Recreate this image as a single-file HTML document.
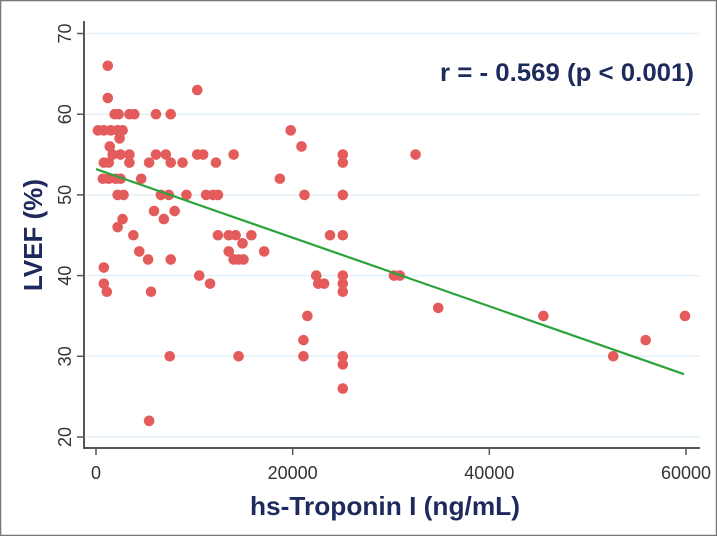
<!DOCTYPE html>
<html><head><meta charset="utf-8"><style>
html,body{margin:0;padding:0;background:#fff}
svg{display:block;font-family:"Liberation Sans",sans-serif}
</style></head><body>
<svg id="chart" width="717" height="536" viewBox="0 0 717 536">
<rect x="0.5" y="0.5" width="716" height="535" fill="#fff" stroke="#777" stroke-width="1.5"/>
<g id="grid"></g>
<g id="axes"></g>
<g id="points"></g>
<g id="fit"></g>
<text x="694" y="81" text-anchor="end" font-size="25" font-weight="bold" fill="#1f2a5c" textLength="254" lengthAdjust="spacingAndGlyphs">r = - 0.569 (p &lt; 0.001)</text>
<text x="385" y="515" text-anchor="middle" font-size="26" font-weight="bold" fill="#1f2a5c" textLength="270" lengthAdjust="spacingAndGlyphs">hs-Troponin I (ng/mL)</text>
<text x="0" y="0" transform="translate(42,235) rotate(-90)" text-anchor="middle" font-size="26" font-weight="bold" fill="#1f2a5c">LVEF (%)</text>
</svg>
<script>
const xTicks=[0,20000,40000,60000];
const yTicks=[20,30,40,50,60,70];
const troponin=[1200,1200,1900,2300,3400,3900,6100,7600,200,800,1500,2200,2700,2400,1400,1700,2500,3400,10300,6100,7100,10300,10900,14000,800,1300,3400,5400,7600,8800,12200,700,1300,2000,2500,4600,18700,2200,2800,6600,7400,9200,11200,11900,12400,5900,8000,6900,2700,2200,3800,12400,13500,14200,15800,14900,13500,17100,4400,5300,7600,14000,14500,15000,800,10500,11600,800,1100,5600,7500,14500,5400,19800,20900,25100,25100,32500,21200,25100,23800,25100,22400,22600,23200,25100,25100,25100,30300,30900,34800,21500,21100,21100,25100,25100,25100,45500,52600,55900,59900];
const lvef=[66,62,60,60,60,60,60,60,58,58,58,58,58,57,56,55,55,55,63,55,55,55,55,55,54,54,54,54,54,54,54,52,52,52,52,52,52,50,50,50,50,50,50,50,50,48,48,47,47,46,45,45,45,45,45,44,43,43,43,42,42,42,42,42,41,40,39,39,38,38,30,30,22,58,56,55,54,55,50,50,45,45,40,39,39,40,39,38,40,40,36,35,32,30,30,29,26,35,30,32,35];
const fitIntercept=[53.2];
const fitSlope=[-0.000425];
const fitRange=[0,59800];
const NS='http://www.w3.org/2000/svg';
const X0=96,X1=686,Y20=437,Y70=33.5;
const sx=v=>X0+(v-0)*(X1-X0)/60000;
const sy=v=>Y20-(v-20)*(Y20-Y70)/50;
function mk(tag,attrs,parent){const e=document.createElementNS(NS,tag);for(const k in attrs)e.setAttribute(k,attrs[k]);parent.appendChild(e);return e;}
const grid=document.getElementById('grid'),axes=document.getElementById('axes'),pts=document.getElementById('points'),fit=document.getElementById('fit');
yTicks.forEach(t=>{
 const g=mk('line',{x1:86,x2:700,y1:sy(t),y2:sy(t),stroke:'#e3f0fa','stroke-width':1.5},grid);
 
 
 const tk=mk('line',{x1:77,x2:84,y1:sy(t),y2:sy(t),stroke:'#555','stroke-width':1.5},axes);
 
 
 const lb=mk('text',{transform:`translate(71,${sy(t)}) rotate(-90)`,'text-anchor':'middle','font-size':18,fill:'#333'},axes);
 lb.textContent=t;
 
 
});
xTicks.forEach(t=>{
 const tk=mk('line',{x1:sx(t),x2:sx(t),y1:448,y2:455,stroke:'#555','stroke-width':1.5},axes);
 
 
 const lb=mk('text',{x:sx(t),y:479,'text-anchor':'middle','font-size':18,fill:'#333'},axes);
 lb.textContent=t;
 
 
});
const ya=mk('line',{x1:84,x2:84,y1:21,y2:449,stroke:'#555','stroke-width':2},axes);


const xa=mk('line',{x1:83,x2:700,y1:448,y2:448,stroke:'#555','stroke-width':2},axes);


troponin.forEach((v,i)=>{
 const c=mk('circle',{cx:sx(v),cy:sy(lvef[i]),r:5.3,fill:'#e45b5b'},pts);
 
 
});
const fl=mk('line',{x1:sx(fitRange[0]),y1:sy(fitIntercept[0]+fitSlope[0]*fitRange[0]),x2:sx(fitRange[1]),y2:sy(fitIntercept[0]+fitSlope[0]*fitRange[1]),stroke:'#2ca33a','stroke-width':2.2},fit);


</script>
</body></html>
